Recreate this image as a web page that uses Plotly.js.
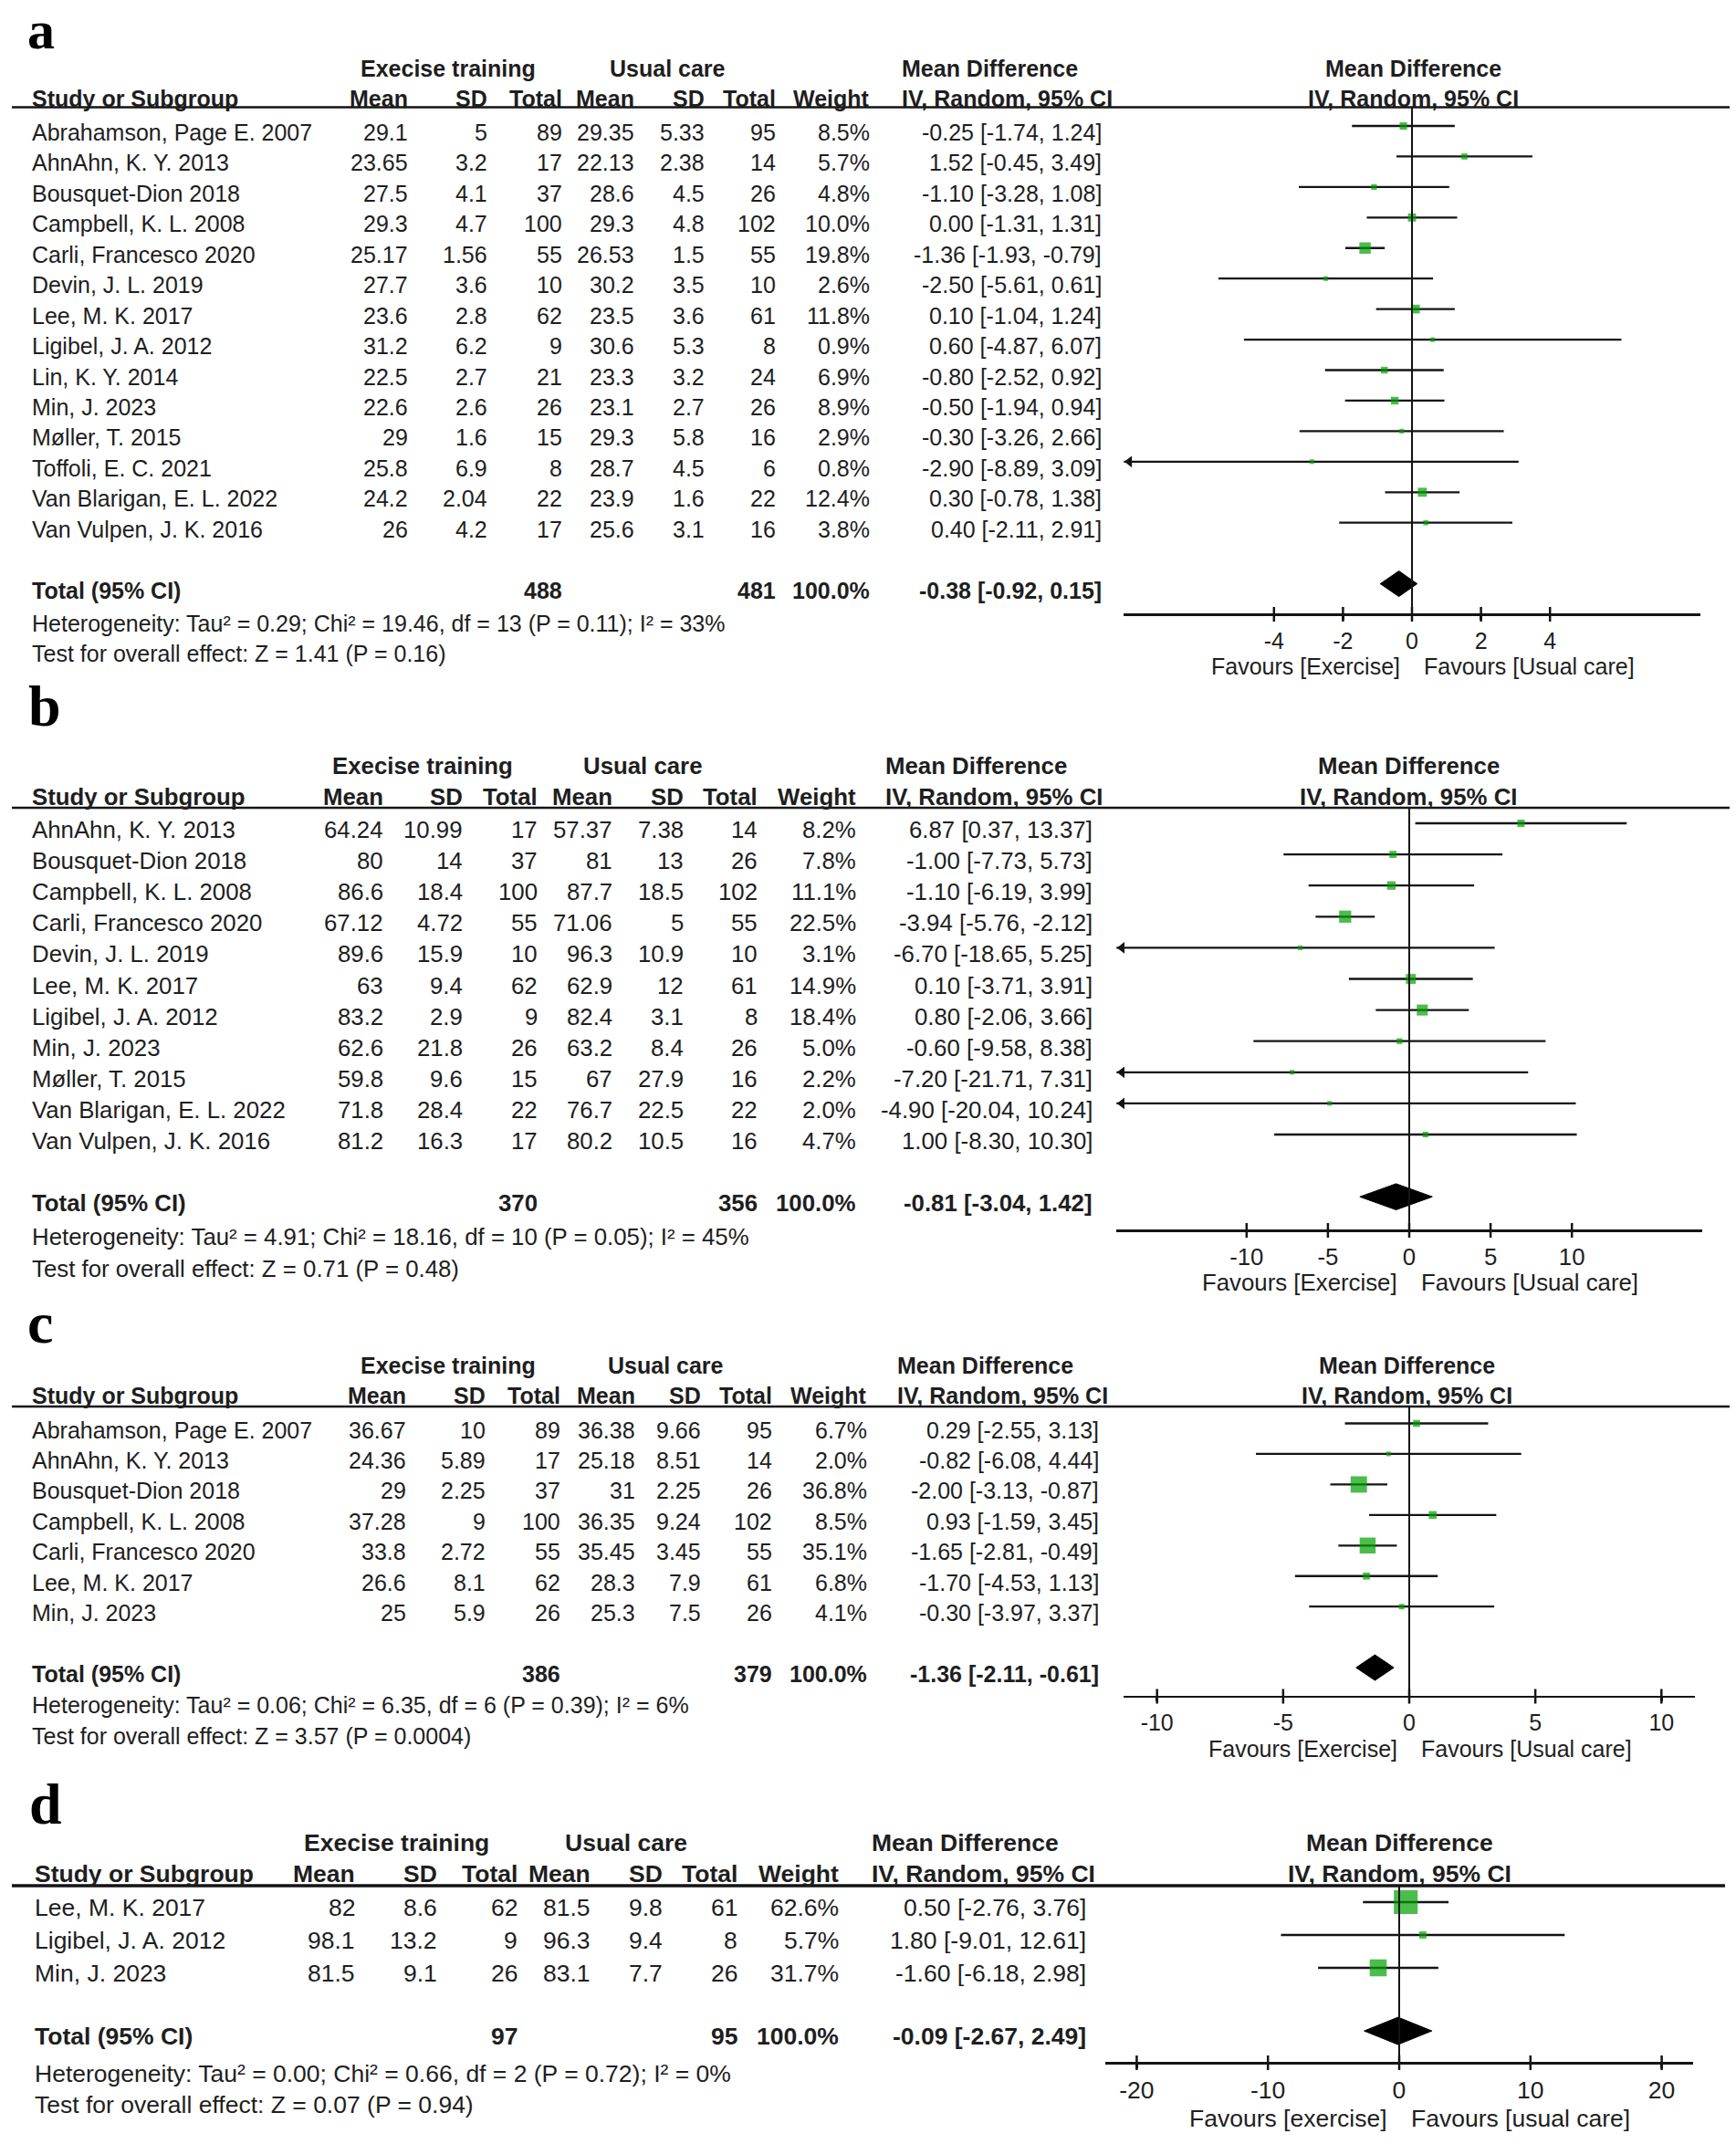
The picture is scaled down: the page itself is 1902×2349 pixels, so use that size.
<!DOCTYPE html>
<html><head><meta charset="utf-8">
<script src="https://cdn.plot.ly/plotly-3.0.1.min.js"></script>
<style>html,body{margin:0;padding:0;background:#fff}</style>
</head><body><div id="chart" style="width:1902px;height:2349px"></div>
<script>
// ---------------- DATA ----------------
// Panel a
const studiesA = ["Abrahamson, Page E. 2007","AhnAhn, K. Y. 2013","Bousquet-Dion 2018","Campbell, K. L. 2008","Carli, Francesco 2020","Devin, J. L. 2019","Lee, M. K. 2017","Ligibel, J. A. 2012","Lin, K. Y. 2014","Min, J. 2023","Møller, T. 2015","Toffoli, E. C. 2021","Van Blarigan, E. L. 2022","Van Vulpen, J. K. 2016"];
const expMeanA = [29.1, 23.65, 27.5, 29.3, 25.17, 27.7, 23.6, 31.2, 22.5, 22.6, 29, 25.8, 24.2, 26];
const expSdA   = [5, 3.2, 4.1, 4.7, 1.56, 3.6, 2.8, 6.2, 2.7, 2.6, 1.6, 6.9, 2.04, 4.2];
const expNA    = [89, 17, 37, 100, 55, 10, 62, 9, 21, 26, 15, 8, 22, 17];
const ctlMeanA = [29.35, 22.13, 28.6, 29.3, 26.53, 30.2, 23.5, 30.6, 23.3, 23.1, 29.3, 28.7, 23.9, 25.6];
const ctlSdA   = [5.33, 2.38, 4.5, 4.8, 1.5, 3.5, 3.6, 5.3, 3.2, 2.7, 5.8, 4.5, 1.6, 3.1];
const ctlNA    = [95, 14, 26, 102, 55, 10, 61, 8, 24, 26, 16, 6, 22, 16];
const weightA  = [8.5, 5.7, 4.8, 10.0, 19.8, 2.6, 11.8, 0.9, 6.9, 8.9, 2.9, 0.8, 12.4, 3.8];
const mdA      = [-0.25, 1.52, -1.10, 0.00, -1.36, -2.50, 0.10, 0.60, -0.80, -0.50, -0.30, -2.90, 0.30, 0.40];
const loA      = [-1.74, -0.45, -3.28, -1.31, -1.93, -5.61, -1.04, -4.87, -2.52, -1.94, -3.26, -8.89, -0.78, -2.11];
const hiA      = [1.24, 3.49, 1.08, 1.31, -0.79, 0.61, 1.24, 6.07, 0.92, 0.94, 2.66, 3.09, 1.38, 2.91];
const ticksA = [-4, -2, 0, 2, 4];
const tickTextA = ["-4", "-2", "0", "2", "4"];

// Panel b
const studiesB = ["AhnAhn, K. Y. 2013","Bousquet-Dion 2018","Campbell, K. L. 2008","Carli, Francesco 2020","Devin, J. L. 2019","Lee, M. K. 2017","Ligibel, J. A. 2012","Min, J. 2023","Møller, T. 2015","Van Blarigan, E. L. 2022","Van Vulpen, J. K. 2016"];
const expMeanB = [64.24, 80, 86.6, 67.12, 89.6, 63, 83.2, 62.6, 59.8, 71.8, 81.2];
const expSdB   = [10.99, 14, 18.4, 4.72, 15.9, 9.4, 2.9, 21.8, 9.6, 28.4, 16.3];
const expNB    = [17, 37, 100, 55, 10, 62, 9, 26, 15, 22, 17];
const ctlMeanB = [57.37, 81, 87.7, 71.06, 96.3, 62.9, 82.4, 63.2, 67, 76.7, 80.2];
const ctlSdB   = [7.38, 13, 18.5, 5, 10.9, 12, 3.1, 8.4, 27.9, 22.5, 10.5];
const ctlNB    = [14, 26, 102, 55, 10, 61, 8, 26, 16, 22, 16];
const weightB  = [8.2, 7.8, 11.1, 22.5, 3.1, 14.9, 18.4, 5.0, 2.2, 2.0, 4.7];
const mdB      = [6.87, -1.00, -1.10, -3.94, -6.70, 0.10, 0.80, -0.60, -7.20, -4.90, 1.00];
const loB      = [0.37, -7.73, -6.19, -5.76, -18.65, -3.71, -2.06, -9.58, -21.71, -20.04, -8.30];
const hiB      = [13.37, 5.73, 3.99, -2.12, 5.25, 3.91, 3.66, 8.38, 7.31, 10.24, 10.30];
const ticksB = [-10, -5, 0, 5, 10];
const tickTextB = ["-10", "-5", "0", "5", "10"];

// Panel c
const studiesC = ["Abrahamson, Page E. 2007","AhnAhn, K. Y. 2013","Bousquet-Dion 2018","Campbell, K. L. 2008","Carli, Francesco 2020","Lee, M. K. 2017","Min, J. 2023"];
const expMeanC = [36.67, 24.36, 29, 37.28, 33.8, 26.6, 25];
const expSdC   = [10, 5.89, 2.25, 9, 2.72, 8.1, 5.9];
const expNC    = [89, 17, 37, 100, 55, 62, 26];
const ctlMeanC = [36.38, 25.18, 31, 36.35, 35.45, 28.3, 25.3];
const ctlSdC   = [9.66, 8.51, 2.25, 9.24, 3.45, 7.9, 7.5];
const ctlNC    = [95, 14, 26, 102, 55, 61, 26];
const weightC  = [6.7, 2.0, 36.8, 8.5, 35.1, 6.8, 4.1];
const mdC      = [0.29, -0.82, -2.00, 0.93, -1.65, -1.70, -0.30];
const loC      = [-2.55, -6.08, -3.13, -1.59, -2.81, -4.53, -3.97];
const hiC      = [3.13, 4.44, -0.87, 3.45, -0.49, 1.13, 3.37];
const ticksC = [-10, -5, 0, 5, 10];
const tickTextC = ["-10", "-5", "0", "5", "10"];

// Panel d
const studiesD = ["Lee, M. K. 2017","Ligibel, J. A. 2012","Min, J. 2023"];
const expMeanD = [82, 98.1, 81.5];
const expSdD   = [8.6, 13.2, 9.1];
const expND    = [62, 9, 26];
const ctlMeanD = [81.5, 96.3, 83.1];
const ctlSdD   = [9.8, 9.4, 7.7];
const ctlND    = [61, 8, 26];
const weightD  = [62.6, 5.7, 31.7];
const mdD      = [0.50, 1.80, -1.60];
const loD      = [-2.76, -9.01, -6.18];
const hiD      = [3.76, 12.61, 2.98];
const ticksD = [-20, -10, 0, 10, 20];
const tickTextD = ["-20", "-10", "0", "10", "20"];

// Pooled results (a, b, c, d)
const panelLetters = ["a", "b", "c", "d"];
const totalExpN = [488, 370, 386, 97];
const totalCtlN = [481, 356, 379, 95];
const pooledMD  = [-0.38, -0.81, -1.36, -0.09];
const pooledLo  = [-0.92, -3.04, -2.11, -2.67];
const pooledHi  = [0.15, 1.42, -0.61, 2.49];
const tau2   = ["0.29", "4.91", "0.06", "0.00"];
const chi2   = ["19.46", "18.16", "6.35", "0.66"];
const dfHet  = [13, 10, 6, 2];
const pHet   = ["0.11", "0.05", "0.39", "0.72"];
const i2     = [33, 45, 6, 0];
const zVal   = ["1.41", "0.71", "3.57", "0.07"];
const pZ     = ["0.16", "0.48", "0.0004", "0.94"];
const favLeft  = ["Favours [Exercise]", "Favours [Exercise]", "Favours [Exercise]", "Favours [exercise]"];
const favRight = ["Favours [Usual care]", "Favours [Usual care]", "Favours [Usual care]", "Favours [usual care]"];

// ---------------- LAYOUT GEOMETRY (pixels) ----------------
const W = 1902, H = 2349;
const SANS = "Liberation Sans, Arial, Helvetica, sans-serif";
const SERIF = "Liberation Serif, Times New Roman, serif";
const TXT = "#1e1e1e", LINE = "#141414", GREEN = "#00a000";

const geo = [
  {labelX:29, labelBase:53.5, labelFs:60, fs:25, h1:74.5, h2:107.5, line:117.5, lineW:2.5, y0:138, rowH:33.44, totalRow:15, textOff:7,
   het:683, test:715.5, axisY:673, favY:730, zeroX:1547, unit:37.8, R:8.35, nameX:34,
   cols:[448,535,617,696,773,851,954], ciRight:1208, ivLeft:987, h1Exp:491, h1Ctl:731, plotHdrX:1548, sqK:2.8, dh:14, lineRight:1895},
  {labelX:30, labelBase:795, labelFs:64, fs:25.8, h1:838.7, h2:873, line:885, lineW:2.5, y0:902, rowH:34.1, totalRow:12, textOff:7,
   het:1355, test:1390, axisY:1348, favY:1405, zeroX:1544, unit:17.82, R:18, nameX:34,
   cols:[421,508,590,672,750,831,939], ciRight:1198, ivLeft:969, h1Exp:463, h1Ctl:704, plotHdrX:1543, sqK:2.8, dh:14.3, lineRight:1895},
  {labelX:29, labelBase:1470.6, labelFs:64, fs:25, h1:1496, h2:1529, line:1541, lineW:2.5, y0:1559.5, rowH:33.45, totalRow:8, textOff:7,
   het:1867.5, test:1902, axisY:1858.5, favY:1915.5, zeroX:1544, unit:27.63, R:11.33, nameX:34,
   cols:[446,533,615,697,769,847,951], ciRight:1205, ivLeft:982, h1Exp:491, h1Ctl:729, plotHdrX:1541, sqK:2.95, dh:14, lineRight:1895},
  {labelX:31, labelBase:1998, labelFs:64, fs:26.5, h1:2019, h2:2053, line:2066, lineW:3.5, y0:2084, rowH:36, totalRow:3.92, textOff:6,
   het:2272, test:2306, axisY:2260, favY:2321, zeroX:1533, unit:14.38, R:22.4, nameX:37,
   cols:[390,480,568,648,727,809,920], ciRight:1191, ivLeft:954, h1Exp:434, h1Ctl:686, plotHdrX:1533, sqK:3.3, dh:15, lineRight:1890}
];

const panels = [
  {studies:studiesA, em:expMeanA, es:expSdA, en:expNA, cm:ctlMeanA, cs:ctlSdA, cn:ctlNA, w:weightA, md:mdA, lo:loA, hi:hiA, ticks:ticksA, tickText:tickTextA},
  {studies:studiesB, em:expMeanB, es:expSdB, en:expNB, cm:ctlMeanB, cs:ctlSdB, cn:ctlNB, w:weightB, md:mdB, lo:loB, hi:hiB, ticks:ticksB, tickText:tickTextB},
  {studies:studiesC, em:expMeanC, es:expSdC, en:expNC, cm:ctlMeanC, cs:ctlSdC, cn:ctlNC, w:weightC, md:mdC, lo:loC, hi:hiC, ticks:ticksC, tickText:tickTextC},
  {studies:studiesD, em:expMeanD, es:expSdD, en:expND, cm:ctlMeanD, cs:ctlSdD, cn:ctlND, w:weightD, md:mdD, lo:loD, hi:hiD, ticks:ticksD, tickText:tickTextD}
];

const fmtCI = (m, l, h) => m.toFixed(2) + " [" + l.toFixed(2) + ", " + h.toFixed(2) + "]";

const layout = {
  width: W, height: H, margin: {l:0, r:0, t:0, b:0},
  paper_bgcolor: "#ffffff", plot_bgcolor: "rgba(0,0,0,0)",
  showlegend: false, annotations: [], shapes: [],
  font: {family: SANS, size: 25, color: TXT}
};
const data = [];

panels.forEach((p, k) => {
  const g = geo[k];
  const n = k + 1;
  const sfx = n > 1 ? String(n) : "";
  const xa = "x" + sfx, ya = "y" + sfx;
  const ry = py => (py - g.y0) / g.rowH;
  const top = Math.max(0, g.labelBase - 60);
  const bottom = g.favY + 25;

  layout["yaxis" + sfx] = {
    domain: [1 - bottom / H, 1 - top / H], range: [ry(bottom), ry(top)],
    anchor: xa, visible: false, showgrid: false, zeroline: false, fixedrange: true
  };
  layout["xaxis" + sfx] = {
    domain: [(g.zeroX - g.R * g.unit) / W, (g.zeroX + g.R * g.unit) / W],
    range: [-g.R, g.R], anchor: "free", position: 1 - g.axisY / H,
    showline: true, linecolor: LINE, linewidth: 2.5,
    ticks: "outside", ticklen: 4, tickwidth: 2.5, tickcolor: LINE,
    tickmode: "array", tickvals: p.ticks, ticktext: p.tickText,
    tickfont: {family: SANS, size: g.fs, color: TXT}, ticklabelstandoff: 2,
    showgrid: false, zeroline: false, fixedrange: true
  };

  const ann = (text, xpx, py, xanchor, extra) => {
    layout.annotations.push(Object.assign({
      xref: "paper", yref: ya, x: xpx / W, y: ry(py), text: text, showarrow: false,
      xanchor: xanchor, yanchor: "middle", borderpad: 0,
      font: {family: SANS, size: g.fs, color: TXT}
    }, extra || {}));
  };

  // panel letter
  ann(panelLetters[k], g.labelX, g.labelBase - 0.3375 * g.labelFs, "left",
      {font: {family: SERIF, size: g.labelFs, color: "#000", weight: "bold"}});

  // headers
  const B = s => "<b>" + s + "</b>";
  ann(B("Execise training"), g.h1Exp, g.h1, "center");
  ann(B("Usual care"), g.h1Ctl, g.h1, "center");
  ann(B("Mean Difference"), g.ivLeft, g.h1, "left");
  ann(B("Mean Difference"), g.plotHdrX, g.h1, "center");
  ann(B("Study or Subgroup"), g.nameX, g.h2, "left");
  ["Mean", "SD", "Total", "Mean", "SD", "Total", "Weight"].forEach((h, j) => ann(B(h), g.cols[j], g.h2, "right"));
  ann(B("IV, Random, 95% CI"), g.ivLeft, g.h2, "left");
  ann(B("IV, Random, 95% CI"), g.plotHdrX, g.h2, "center");

  layout.shapes.push({type: "line", xref: "paper", yref: ya, x0: 13 / W, x1: g.lineRight / W,
    y0: ry(g.line), y1: ry(g.line), line: {color: LINE, width: g.lineW}});

  // study rows
  p.studies.forEach((s, i) => {
    const ty = g.y0 + g.rowH * i + g.textOff;
    ann(s, g.nameX, ty, "left");
    const vals = [p.em[i], p.es[i], p.en[i], p.cm[i], p.cs[i], p.cn[i], p.w[i].toFixed(1) + "%"];
    vals.forEach((v, j) => ann(String(v), g.cols[j], ty, "right"));
    ann(fmtCI(p.md[i], p.lo[i], p.hi[i]), g.ciRight, ty, "right");
  });

  // total row
  const tty = g.y0 + g.rowH * g.totalRow + g.textOff;
  ann(B("Total (95% CI)"), g.nameX, tty, "left");
  ann(B(String(totalExpN[k])), g.cols[2], tty, "right");
  ann(B(String(totalCtlN[k])), g.cols[5], tty, "right");
  ann(B("100.0%"), g.cols[6], tty, "right");
  ann(B(fmtCI(pooledMD[k], pooledLo[k], pooledHi[k])), g.ciRight, tty, "right");
  ann("Heterogeneity: Tau² = " + tau2[k] + "; Chi² = " + chi2[k] + ", df = " + dfHet[k] +
      " (P = " + pHet[k] + "); I² = " + i2[k] + "%", g.nameX, g.het, "left");
  ann("Test for overall effect: Z = " + zVal[k] + " (P = " + pZ[k] + ")", g.nameX, g.test, "left");

  // favours labels
  ann(favLeft[k], g.zeroX - 12, g.favY, "right");
  ann(favRight[k], g.zeroX + 12, g.favY, "left");

  // zero line
  layout.shapes.push({type: "line", xref: xa, yref: ya, x0: 0, x1: 0,
    y0: ry(g.line), y1: ry(g.axisY), line: {color: LINE, width: 2}});
  // full crossing tick marks
  p.ticks.forEach(t => layout.shapes.push({type: "line", xref: xa, yref: ya, x0: t, x1: t,
    y0: ry(g.axisY + 8), y1: ry(g.axisY - 8), line: {color: LINE, width: 2.5}}));

  // CI lines
  const cx = [], cy = [];
  p.md.forEach((m, i) => { cx.push(p.lo[i], p.hi[i], null); cy.push(i, i, null); });
  data.push({type: "scatter", mode: "lines", x: cx, y: cy, xaxis: xa, yaxis: ya,
    line: {color: LINE, width: 2.3}, hoverinfo: "skip"});

  // squares (size from weight)
  data.push({type: "scatter", mode: "markers", x: p.md, y: p.studies.map((s, i) => i), xaxis: xa, yaxis: ya,
    marker: {symbol: "square", color: GREEN, size: p.w.map(w => Math.max(5, g.sqK * Math.sqrt(w))), line: {width: 0}},
    hoverinfo: "skip"});

  // arrows for CIs beyond the scale
  const ax = [], ay = [], as = [];
  p.lo.forEach((l, i) => { if (l < -g.R) { ax.push(-g.R + 6 / g.unit); ay.push(i); as.push("triangle-left"); } });
  p.hi.forEach((h, i) => { if (h > g.R) { ax.push(g.R - 6 / g.unit); ay.push(i); as.push("triangle-right"); } });
  if (ax.length) data.push({type: "scatter", mode: "markers", x: ax, y: ay, xaxis: xa, yaxis: ya, cliponaxis: false,
    marker: {symbol: as, color: LINE, size: 11, line: {width: 0}}, hoverinfo: "skip"});

  // pooled diamond
  const T = g.totalRow, dh = g.dh / g.rowH;
  data.push({type: "scatter", mode: "lines", xaxis: xa, yaxis: ya, fill: "toself", fillcolor: "#000",
    x: [pooledLo[k], pooledMD[k], pooledHi[k], pooledMD[k], pooledLo[k]],
    y: [T, T - dh, T, T + dh, T], line: {color: "#000", width: 1}, hoverinfo: "skip"});
});

Plotly.newPlot("chart", data, layout, {staticPlot: true, displayModeBar: false});
</script>
</body></html>
